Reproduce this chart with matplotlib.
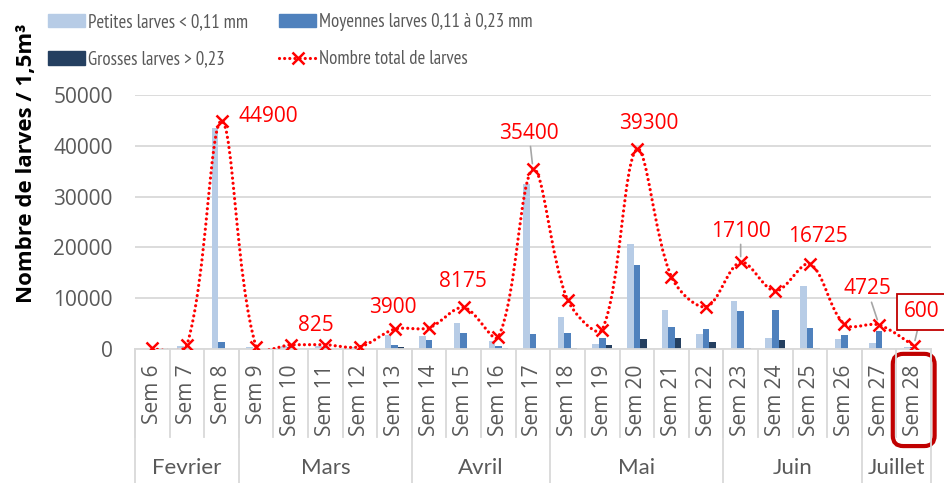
import matplotlib
matplotlib.use('Agg')
import matplotlib.pyplot as plt
import matplotlib.transforms as mtransforms
from matplotlib.path import Path
from matplotlib.patches import PathPatch, Patch
from matplotlib.lines import Line2D
import numpy as np

# data
weeks = ['Sem %d' % i for i in range(6, 29)]
months = ['Fevrier', 'Mars', 'Avril', 'Mai', 'Juin', 'Juillet']
weeks_per_month = [3, 5, 4, 5, 4, 2]

petites = [0, 500, 43600, 300, 500, 500, 300, 2750, 2500, 5100, 1600, 32450,
           6250, 1000, 20700, 7700, 3000, 9450, 2100, 12400, 2000, 1150, 300]
moyennes = [0, 250, 1300, 150, 300, 325, 150, 800, 1700, 3075, 650, 2950,
            3200, 2100, 16600, 4300, 3900, 7400, 7600, 4100, 2850, 3550, 300]
grosses = [0, 0, 0, 0, 0, 0, 0, 350, 0, 0, 150, 0,
           200, 700, 2000, 2200, 1400, 250, 1700, 225, 0, 25, 0]
totals = [100, 750, 44900, 450, 800, 825, 450, 3900, 4200, 8175, 2400, 35400,
          9650, 3800, 39300, 14200, 8300, 17100, 11400, 16725, 4850, 4725, 600]

# which points get a value label: index -> (dx, dy) offset in pixels, leader line
labelled = {2: (47, 4, False), 5: (-9, 19, False), 7: (-2, 22, False),
            9: (-1, 26, False), 11: (-4, 36, True), 14: (12, 26, False),
            17: (0, 31, True), 19: (8, 28, False), 21: (-12, 36, True),
            22: (8, 34, True)}

c_pet = '#B7CCE6'
c_moy = '#4F81BD'
c_gro = '#243F60'
grey = '#595959'
light = '#D9D9D9'
txtfont = ['Open Sans', 'DejaVu Sans']
narrow = ['PT Sans Narrow', 'Lato', 'DejaVu Sans']

fig = plt.figure(figsize=(9.45, 4.83), dpi=100)
ax = fig.add_axes([135/945, 1 - 349/483, 796/945, 254/483])

x = np.arange(len(weeks))
w = 0.19
ax.bar(x - w, petites, w, color=c_pet, zorder=2)
ax.bar(x, moyennes, w, color=c_moy, zorder=2)
ax.bar(x + w, grosses, w, color=c_gro, zorder=2)

# smoothed line (bezier through the points, like the spreadsheet does)
sx, sy = 34.6, 254/50000
pts = np.column_stack([x, totals]).astype(float)
n = len(pts)
def dist(a, b):
    return np.hypot((a[0]-b[0])*sx, (a[1]-b[1])*sy)
verts = [pts[0]]
codes = [Path.MOVETO]
for i in range(n-1):
    p0 = pts[i-1] if i > 0 else pts[i]
    p1, p2 = pts[i], pts[i+1]
    p3 = pts[i+2] if i+2 < n else pts[i+1]
    d01, d12, d23 = dist(p0, p1), dist(p1, p2), dist(p2, p3)
    f1 = d12/(d01+d12)/3 if d01 > 0 else 0
    f2 = d12/(d12+d23)/3 if d23 > 0 else 0
    verts += [p1 + (p2-p0)*f1, p2 - (p3-p1)*f2, p2]
    codes += [Path.CURVE4]*3
ax.add_patch(PathPatch(Path(verts, codes), fill=False, edgecolor='red', lw=2.3,
                       linestyle=(0, (0.01, 1.6)), capstyle='round', zorder=3))
ax.plot(x, totals, 'x', color='red', ms=9, mew=1.8, zorder=4)

for i, (dx, dy, leader) in labelled.items():
    kw = {}
    if leader:
        kw['arrowprops'] = dict(arrowstyle='-', color='#A6A6A6', lw=1.2,
                                shrinkA=0, shrinkB=4)
    if i == n-1:
        kw['bbox'] = dict(boxstyle='square,pad=0.35', fc='white', ec='#C00000', lw=1.3)
    ax.annotate(str(totals[i]), (x[i], totals[i]), xytext=(dx, dy),
                textcoords='offset pixels', ha='center', va='center',
                color='red', fontsize=15, family=txtfont, zorder=5, **kw)

ax.set_xlim(-0.5, n - 0.5)
ax.set_ylim(0, 50000)
ax.set_yticks(range(0, 50001, 10000))
ax.yaxis.grid(True, color=light, lw=1.3)
ax.set_axisbelow(True)
for s in ['left', 'right', 'top']:
    ax.spines[s].set_visible(False)
ax.spines['bottom'].set_color(light)
ax.spines['bottom'].set_linewidth(1.3)
ax.tick_params(axis='y', length=0, pad=16, labelsize=15, labelcolor=grey)
for t in ax.get_yticklabels():
    t.set_family(txtfont)

ax.set_xticks(x)
ax.set_xticklabels(weeks, rotation=90, fontsize=15, color=grey, family=txtfont, va='top')
ax.tick_params(axis='x', length=0, pad=11)
ax.get_xticklabels()[-1].set_bbox(dict(boxstyle='round,pad=0.5,rounding_size=0.5',
                                       fc='none', ec='#C00000', lw=3))

# category separators and month groups under the axis
trans = mtransforms.blended_transform_factory(ax.transData, ax.transAxes)
for b in range(n + 1):
    ax.plot([b - 0.5]*2, [0, -0.346], transform=trans, color=light, lw=1.3, clip_on=False)
start = 0
for m, c in zip(months, weeks_per_month):
    ax.plot([start - 0.5]*2, [0, -0.53], transform=trans, color=light, lw=1.3, clip_on=False)
    ax.text(start + c/2 - 0.5, -0.469, m, transform=trans, ha='center', va='center',
            fontsize=16, family=['Lato', 'DejaVu Sans'], color=grey)
    start += c
ax.plot([start - 0.5]*2, [0, -0.53], transform=trans, color=light, lw=1.3, clip_on=False)

fig.text(27/945, 1 - 163/483, 'Nombre de larves / 1,5m³', rotation=90, ha='center',
         va='center', fontsize=16, fontweight='bold', family=txtfont)

handles = [Patch(color=c_pet), Patch(color=c_gro), Patch(color=c_moy),
           Line2D([], [], color='red', lw=2.3, linestyle=(0, (0.01, 1.6)),
                  dash_capstyle='round', marker='x', ms=9, mew=1.8)]
labels = ['Petites larves < 0,11 mm', 'Grosses larves > 0,23',
          'Moyennes larves 0,11 à 0,23 mm', 'Nombre total de larves']
fig.legend(handles, labels, ncol=2, loc='upper left', bbox_to_anchor=(48/945, 1 - 13/483),
           frameon=False, borderpad=0, borderaxespad=0, handlelength=1.97,
           handleheight=0.75, handletextpad=0.16, labelspacing=1.03, columnspacing=1.66,
           prop={'family': narrow, 'size': 13.5}, labelcolor=grey)

fig.savefig('out.png', dpi=100)
